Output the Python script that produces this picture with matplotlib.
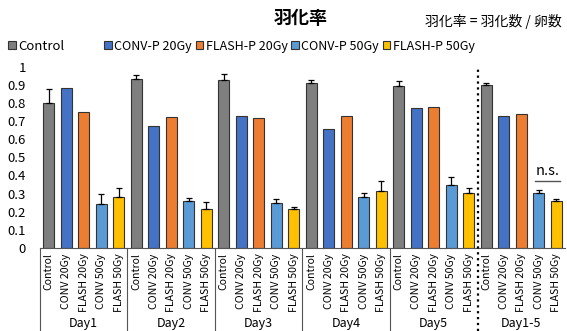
import matplotlib
matplotlib.use("Agg")
import matplotlib.pyplot as plt
from matplotlib.patches import Patch
from matplotlib.lines import Line2D
import numpy as np

plt.rcParams['font.family'] = ['Noto Sans CJK JP', 'DejaVu Sans']

# emergence rate per day and group
days = ['Day1', 'Day2', 'Day3', 'Day4', 'Day5', 'Day1-5']
groups = ['Control', 'CONV-P 20Gy', 'FLASH-P 20Gy', 'CONV-P 50Gy', 'FLASH-P 50Gy']
tick_names = ['Control', 'CONV 20Gy', 'FLASH 20Gy', 'CONV 50Gy', 'FLASH 50Gy']
colors = ['#7f7f7f', '#4472c4', '#ed7d31', '#5b9bd5', '#ffc000']

control = [0.797, 0.931, 0.926, 0.907, 0.894, 0.899]
conv_20 = [0.880, 0.672, 0.727, 0.657, 0.770, 0.727]
flash_20 = [0.748, 0.720, 0.716, 0.727, 0.777, 0.740]
conv_50 = [0.244, 0.261, 0.246, 0.279, 0.347, 0.303]
flash_50 = [0.281, 0.215, 0.215, 0.312, 0.301, 0.260]

control_err = [0.077, 0.022, 0.031, 0.019, 0.028, 0.011]
conv_20_err = [0, 0, 0, 0, 0, 0]
flash_20_err = [0, 0, 0, 0, 0, 0]
conv_50_err = [0.055, 0.016, 0.026, 0.026, 0.046, 0.017]
flash_50_err = [0.051, 0.038, 0.009, 0.055, 0.030, 0.010]

values = [control, conv_20, flash_20, conv_50, flash_50]
errors = [control_err, conv_20_err, flash_20_err, conv_50_err, flash_50_err]

n = len(groups)
fig = plt.figure(figsize=(5.67, 3.31), dpi=100)
ax = fig.add_axes([0.0705, 0.2508, 0.9965 - 0.0705, 0.799 - 0.2508])

for i in range(n):
    x = np.arange(len(days)) * n + i
    ax.bar(x, values[i], width=0.63, color=colors[i], edgecolor='#333333', linewidth=0.8, zorder=2)
    err = np.array(errors[i])
    has = err > 0
    if has.any():
        ax.errorbar(x[has], np.array(values[i])[has],
                    yerr=[np.zeros(has.sum()), err[has]],
                    fmt='none', ecolor='black', elinewidth=0.9, capsize=2, capthick=0.9, zorder=3)

ax.set_xlim(-0.5, len(days) * n - 0.5)
ax.set_ylim(0, 1)
ax.set_yticks(np.arange(0, 1.01, 0.1))
ax.set_yticklabels(['0'] + ['%.1f' % v for v in np.arange(0.1, 0.95, 0.1)] + ['1'])
ax.tick_params(axis='y', length=0, labelsize=9.5, pad=10)

ax.set_xticks(np.arange(len(days) * n))
ax.set_xticklabels(tick_names * len(days), rotation=90, fontsize=7.6)
ax.tick_params(axis='x', length=0, pad=4)

for s in ['top', 'right', 'left']:
    ax.spines[s].set_visible(False)
ax.spines['bottom'].set_color('#555555')
ax.spines['bottom'].set_linewidth(0.8)

# group separators below the axis and day labels
for k in range(len(days)):
    xs = k * n - 0.5
    if k == len(days) - 1:
        ax.add_line(Line2D([xs, xs], [-0.46, 1.0], color='black',
                           linestyle=':', linewidth=1.6, clip_on=False, zorder=4))
    else:
        ax.add_line(Line2D([xs, xs], [-0.46, 0], color='#555555', linewidth=0.8, clip_on=False))
    ax.text(k * n + 2, -0.415, days[k], ha='center', va='center', fontsize=9)

# significance marker on the pooled group
x_c = (len(days) - 1) * n + 3
x_f = (len(days) - 1) * n + 4
ax.plot([x_c - 0.2, x_f + 0.2], [0.37, 0.37], color='#555555', linewidth=1.0)
ax.text((x_c + x_f) / 2, 0.385, 'n.s.', ha='center', va='bottom', fontsize=10.5)

fig.text(0.53, 0.945, '羽化率', ha='center', va='center', fontsize=13, fontweight='bold')
fig.text(0.99, 0.935, '羽化率 = 羽化数 / 卵数', ha='right', va='center', fontsize=10)

handles = [Patch(facecolor=c, edgecolor='#333333', linewidth=0.8) for c in colors]
fig.legend(handles[:1], groups[:1], loc='center left', bbox_to_anchor=(0.005, 0.86),
           frameon=False, fontsize=9.5, handlelength=0.6, handleheight=0.6,
           handletextpad=0.2, borderaxespad=0)
fig.legend(handles[1:], groups[1:], loc='center left', bbox_to_anchor=(0.175, 0.86), ncol=4,
           frameon=False, fontsize=9, handlelength=0.6, handleheight=0.6,
           handletextpad=0.2, columnspacing=0.3, borderaxespad=0)

fig.savefig('out.png', dpi=100)
